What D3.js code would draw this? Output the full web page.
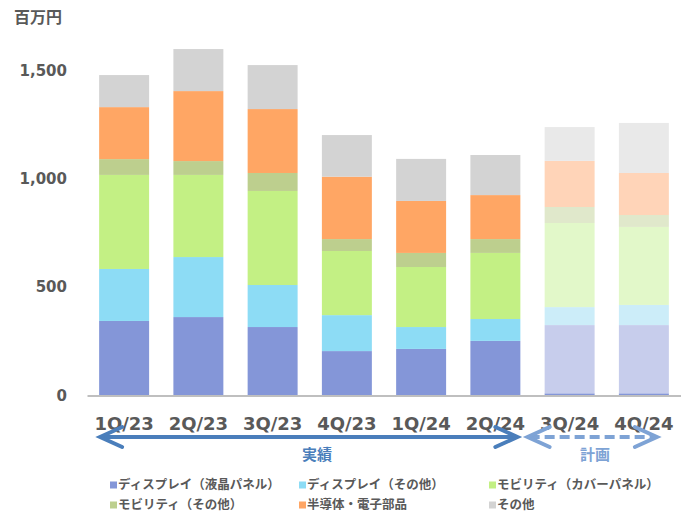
<!DOCTYPE html>
<html>
<head>
<meta charset="utf-8">
<script src="https://cdn.jsdelivr.net/npm/d3@7"></script>
<style>
  body { margin: 0; background: #fff; }
  text { fill: #595959; }
</style>
</head>
<body>
<div id="chart"></div>
<script>
// Quarters and values (million yen)
const quarters = ['1Q/23', '2Q/23', '3Q/23', '4Q/23', '1Q/24', '2Q/24', '3Q/24', '4Q/24'];
const isPlan = [false, false, false, false, false, false, true, true];
const lcdBase = [0, 0, 0, 0, 0, 0, 10, 10]; // thin dark strip under the plan bars
const lcd = [344, 362, 316, 205, 215, 252, 315, 315];
const dispOther = [240, 277, 194, 166, 101, 101, 83, 93];
const cover = [434, 379, 434, 296, 277, 305, 388, 360];
const mobOther = [73, 64, 83, 55, 65, 64, 74, 55];
const semi = [240, 323, 295, 288, 240, 203, 213, 194];
const other = [148, 194, 203, 192, 194, 185, 156, 231];
const yTicks = [0, 500, 1000, 1500];

const seriesNames = ['ディスプレイ（液晶パネル）', 'ディスプレイ（その他）', 'モビリティ（カバーパネル）',
  'モビリティ（その他）', '半導体・電子部品', 'その他'];
const colors = ['#8496d8', '#8ddcf5', '#c3f084', '#bdcf8e', '#ffa664', '#d3d3d3'];
const lightColors = ['#c7cdec', '#ccedf9', '#e2f8c9', '#e0e8cb', '#ffd4b8', '#e9e9e9'];

const keys = ['base', 'lcd', 'dispOther', 'cover', 'mobOther', 'semi', 'other'];
const rows = quarters.map((q, i) => ({
  q, plan: isPlan[i], base: lcdBase[i], lcd: lcd[i], dispOther: dispOther[i],
  cover: cover[i], mobOther: mobOther[i], semi: semi[i], other: other[i]
}));

const numFont = '"DejaVu Sans", Verdana, sans-serif';
const jpFont = '"Noto Sans CJK JP", sans-serif';

const width = 681, height = 512;
const svg = d3.select('#chart').append('svg')
  .attr('width', width).attr('height', height);

const x = d3.scaleBand().domain(quarters).range([87, 681]).paddingInner(0.327).paddingOuter(0.1635);
const y = d3.scaleLinear().domain([0, 1500]).range([395.5, 70.5]);

const stacked = d3.stack().keys(keys)(rows);

// bars
svg.append('g').selectAll('g')
  .data(stacked)
  .join('g')
  .each(function (layer, li) {
    d3.select(this).selectAll('rect')
      .data(layer)
      .join('rect')
      .attr('x', d => x(d.data.q))
      .attr('y', d => y(d[1]))
      .attr('width', x.bandwidth())
      .attr('height', d => y(d[0]) - y(d[1]))
      .attr('fill', d => {
        if (li === 0) return colors[0];
        return d.data.plan ? lightColors[li - 1] : colors[li - 1];
      });
  });

// y axis
const yAxis = svg.append('g')
  .attr('transform', 'translate(67,0)')
  .call(d3.axisLeft(y).tickValues(yTicks).tickSize(0).tickPadding(0).tickFormat(d3.format(',')));
yAxis.select('.domain').remove();
yAxis.selectAll('text')
  .style('font-family', numFont)
  .style('font-size', '15px').style('font-weight', 'bold').style('fill', '#595959');

// x axis
const xAxis = svg.append('g')
  .attr('transform', `translate(0,${y(0)})`)
  .call(d3.axisBottom(x).tickSize(0).tickSizeOuter(0));
xAxis.select('.domain').attr('stroke', '#bfbfbf').attr('stroke-width', 2);
xAxis.selectAll('text')
  .attr('y', 28).attr('dy', '0.35em')
  .style('font-family', numFont)
  .style('font-size', '18px').style('font-weight', 'bold').style('fill', '#595959');

// unit label
svg.append('text')
  .attr('x', 14).attr('y', 23)
  .style('font-family', jpFont)
  .style('font-size', '16px').style('font-weight', 'bold')
  .text('百万円');

// actual / plan arrows
const arrowY = 437;
function arrow(x0, x1, color, dashed) {
  const g = svg.append('g').attr('stroke', color).attr('stroke-width', 4).attr('fill', 'none');
  g.append('line').attr('x1', x0 + 2).attr('x2', x1 - 2).attr('y1', arrowY).attr('y2', arrowY)
    .attr('stroke-dasharray', dashed ? '10,5' : null);
  g.append('polyline').attr('points', `${x0 + 22},${arrowY - 10} ${x0},${arrowY} ${x0 + 22},${arrowY + 10}`)
    .attr('stroke-linecap', 'round');
  g.append('polyline').attr('points', `${x1 - 22},${arrowY - 10} ${x1},${arrowY} ${x1 - 22},${arrowY + 10}`)
    .attr('stroke-linecap', 'round');
}
const solidStart = x(quarters[0]) + 1;
const solidEnd = x(quarters[5]) + x.bandwidth() - 3;
const planStart = x(quarters[6]) - 17;
const planEnd = x(quarters[7]) + x.bandwidth() - 12;
arrow(solidStart, solidEnd, '#4a7ebb', false);
arrow(planStart, planEnd, '#7ea3d5', true);

svg.append('text')
  .attr('x', 317).attr('y', 455).attr('dy', '0.35em').attr('text-anchor', 'middle')
  .style('font-family', jpFont)
  .style('font-size', '15px').style('font-weight', 'bold').style('fill', '#4a7ebb')
  .text('実績');
svg.append('text')
  .attr('x', 595).attr('y', 455).attr('dy', '0.35em').attr('text-anchor', 'middle')
  .style('font-family', jpFont)
  .style('font-size', '15px').style('font-weight', 'bold').style('fill', '#7ea3d5')
  .text('計画');

// legend
const legendX = [110, 299, 489];
const legendY = [485, 505];
const legend = svg.append('g')
  .style('font-family', jpFont)
  .style('font-size', '12.5px').style('font-weight', 'bold');
seriesNames.forEach((name, i) => {
  const lx = legendX[i % 3], ly = legendY[Math.floor(i / 3)];
  legend.append('rect').attr('x', lx).attr('y', ly - 3.5).attr('width', 7).attr('height', 7).attr('fill', colors[i]);
  legend.append('text').attr('x', lx + 8).attr('y', ly).attr('dy', '0.35em').text(name);
});
</script>
</body>
</html>
